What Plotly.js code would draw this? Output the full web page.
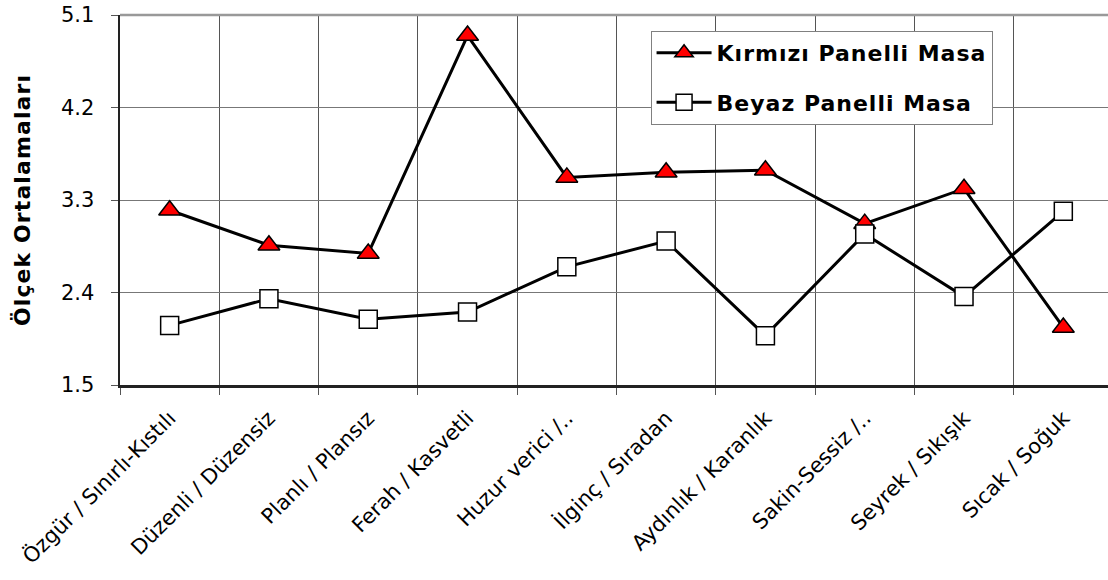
<!DOCTYPE html>
<html>
<head>
<meta charset="utf-8">
<script src="https://cdn.plot.ly/plotly-3.0.1.min.js"></script>
<style>
body{margin:0;padding:0;background:#fff;}
#chart{width:1108px;height:580px;}
.legendtext{letter-spacing:1px;}
.ytitle{letter-spacing:1.1px;}
</style>
</head>
<body>
<div id="chart"></div>
<script>
const categories = ["Özgür / Sınırlı-Kıstılı", "Düzenli / Düzensiz", "Planlı / Plansız", "Ferah / Kasvetli", "Huzur verici /..", "İlginç / Sıradan", "Aydınlık / Karanlık", "Sakin-Sessiz /..", "Seyrek / Sıkışık", "Sıcak / Soğuk"];
const redValues = [3.20, 2.86, 2.78, 4.90, 3.52, 3.57, 3.59, 3.07, 3.41, 2.06];
const whiteValues = [2.08, 2.34, 2.14, 2.21, 2.65, 2.90, 1.98, 2.97, 2.36, 3.19];
const yTicks = [1.5, 2.4, 3.3, 4.2, 5.1];
const seriesNames = ["Kırmızı Panelli Masa", "Beyaz Panelli Masa"];

const font = "DejaVu Sans, Verdana, sans-serif";

const traces = [
  {
    x: categories, y: redValues, name: seriesNames[0], legendgroup: "a", type: "scatter", mode: "lines+markers",
    line: {color: "#000", width: 3},
    marker: {symbol: "triangle-up", size: 19, color: "#ff0000", line: {color: "#000", width: 1.5}}
  },
  {
    x: categories, y: whiteValues, name: seriesNames[1], legendgroup: "b", type: "scatter", mode: "lines+markers",
    line: {color: "#000", width: 3},
    marker: {symbol: "square", size: 18, color: "#ffffff", line: {color: "#000", width: 1.5}}
  }
];

const tickAnnotations = yTicks.map(v => ({
  xref: "paper", yref: "y", x: 0, y: v, xanchor: "right", yanchor: "middle",
  xshift: -24, text: v.toFixed(1), showarrow: false,
  font: {family: font, size: 21, color: "#000"}
}));

const layout = {
  width: 1108, height: 580,
  margin: {l: 120, r: 0, t: 15, b: 195},
  paper_bgcolor: "#fff", plot_bgcolor: "#fff",
  font: {family: font, color: "#000", size: 20},
  showlegend: true,
  legend: {
    x: 0.537, y: 0.957, xanchor: "left", yanchor: "top",
    bgcolor: "#fff", bordercolor: "#808080", borderwidth: 1,
    font: {family: font, size: 22, color: "#000", weight: "bold"},
    itemwidth: 55, tracegroupgap: 18, traceorder: "grouped"
  },
  xaxis: {
    type: "category", range: [-0.5, 9.45],
    tickson: "boundaries", showgrid: true, gridcolor: "#555", gridwidth: 1,
    ticks: "outside", ticklen: 7, tickcolor: "#555",
    showline: true, linecolor: "#222", linewidth: 2.5,
    tickangle: -45, tickfont: {family: font, size: 21, color: "#000"},
    ticklabelstandoff: 10,
    fixedrange: true
  },
  yaxis: {
    range: [1.5, 5.1], tickvals: yTicks, showticklabels: false,
    showgrid: true, gridcolor: "#777", gridwidth: 1,
    ticks: "outside", ticklen: 7, tickcolor: "#555",
    showline: true, linecolor: "#222", linewidth: 2,
    title: {text: "Ölçek Ortalamaları", font: {family: font, size: 22, color: "#000", weight: "bold"}, standoff: 74},
    zeroline: false, fixedrange: true
  },
  annotations: tickAnnotations,
  shapes: [
    {type: "line", xref: "paper", yref: "paper", x0: 0, x1: 1, y0: 1, y1: 1, line: {color: "#999", width: 2.5}}
  ]
};

Plotly.newPlot("chart", traces, layout, {displayModeBar: false, staticPlot: true});
</script>
</body>
</html>
